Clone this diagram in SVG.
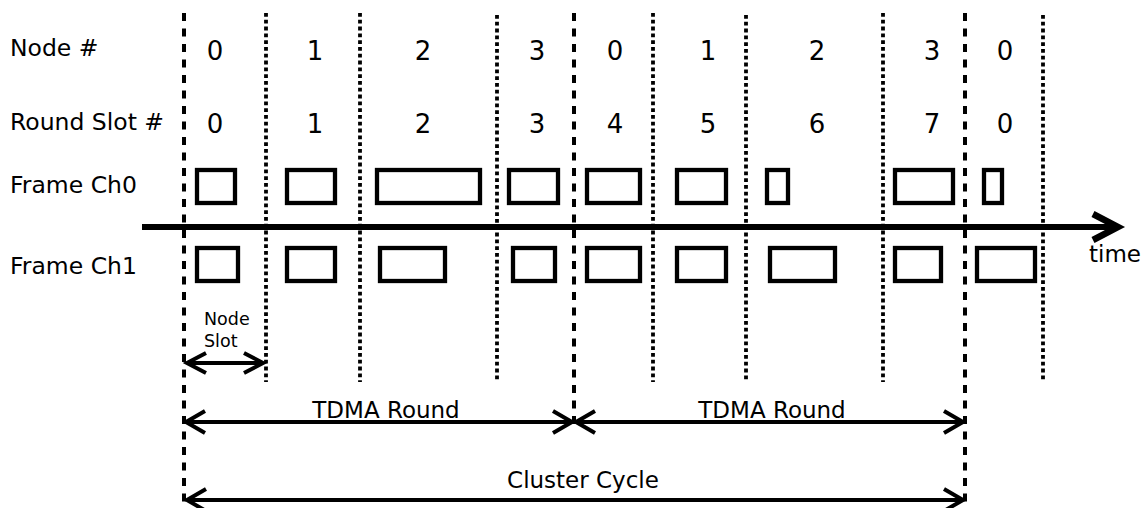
<svg xmlns="http://www.w3.org/2000/svg" width="1146" height="508" viewBox="0 0 1146 508">
<style>
text{font-family:"DejaVu Sans","Liberation Sans",sans-serif;fill:#000}
.lbl{font-size:23.5px}
.num{font-size:26px;text-anchor:middle}
.small{font-size:17.5px}
.cap{font-size:23px;text-anchor:middle}
.dash{stroke:#000;stroke-width:4;stroke-dasharray:8 7.5;fill:none}
.dot{stroke:#000;stroke-width:3.8;stroke-dasharray:3.8 3;fill:none}
.box{fill:#fff;stroke:#000;stroke-width:4.3}
.arr{stroke:#000;stroke-width:4;fill:none}
</style>
<rect width="1146" height="508" fill="#fff"/>
<g id="labels">
<text class="lbl" x="10" y="56">Node #</text>
<text class="lbl" x="10" y="130">Round Slot #</text>
<text class="lbl" x="10" y="193">Frame Ch0</text>
<text class="lbl" x="10" y="274">Frame Ch1</text>
</g>
<g id="boundaries">
<line class="dash" x1="184" y1="13" x2="184" y2="502"/>
<line class="dash" x1="574" y1="13" x2="574" y2="425"/>
<line class="dash" x1="965" y1="13" x2="965" y2="502"/>
<line class="dot" x1="266" y1="13" x2="266" y2="382"/>
<line class="dot" x1="360" y1="13" x2="360" y2="382"/>
<line class="dot" x1="497" y1="15" x2="497" y2="380"/>
<line class="dot" x1="653" y1="13" x2="653" y2="382"/>
<line class="dot" x1="746" y1="15" x2="746" y2="380"/>
<line class="dot" x1="883" y1="13" x2="883" y2="382"/>
<line class="dot" x1="1043" y1="15" x2="1043" y2="380"/>
</g>
<g id="node-numbers">
<text class="num" x="215" y="60">0</text>
<text class="num" x="315" y="60">1</text>
<text class="num" x="423" y="60">2</text>
<text class="num" x="537" y="60">3</text>
<text class="num" x="615" y="60">0</text>
<text class="num" x="708" y="60">1</text>
<text class="num" x="817" y="60">2</text>
<text class="num" x="932" y="60">3</text>
<text class="num" x="1005" y="60">0</text>
</g>
<g id="slot-numbers">
<text class="num" x="215" y="133">0</text>
<text class="num" x="315" y="133">1</text>
<text class="num" x="423" y="133">2</text>
<text class="num" x="537" y="133">3</text>
<text class="num" x="615" y="133">4</text>
<text class="num" x="708" y="133">5</text>
<text class="num" x="817" y="133">6</text>
<text class="num" x="932" y="133">7</text>
<text class="num" x="1005" y="133">0</text>
</g>
<g id="frames-ch0">
<rect class="box" x="197" y="170" width="38" height="33"/>
<rect class="box" x="287" y="170" width="48" height="33"/>
<rect class="box" x="377" y="170" width="103" height="33"/>
<rect class="box" x="509" y="170" width="49" height="33"/>
<rect class="box" x="587" y="170" width="53" height="33"/>
<rect class="box" x="677" y="170" width="49" height="33"/>
<rect class="box" x="767" y="170" width="21" height="33"/>
<rect class="box" x="895" y="170" width="58" height="33"/>
<rect class="box" x="984" y="170" width="18" height="33"/>
</g>
<g id="frames-ch1">
<rect class="box" x="197" y="248" width="41" height="33"/>
<rect class="box" x="287" y="248" width="48" height="33"/>
<rect class="box" x="380" y="248" width="65" height="33"/>
<rect class="box" x="513" y="248" width="42" height="33"/>
<rect class="box" x="587" y="248" width="53" height="33"/>
<rect class="box" x="677" y="248" width="49" height="33"/>
<rect class="box" x="770" y="248" width="65" height="33"/>
<rect class="box" x="895" y="248" width="46" height="33"/>
<rect class="box" x="977" y="248" width="58" height="33"/>
</g>
<g id="connectors">
<line x1="142" y1="227" x2="1114" y2="227" stroke="#000" stroke-width="6"/>
<polyline points="1093,214 1118,227 1093,240" stroke="#000" stroke-width="6.5" fill="none" stroke-linejoin="miter"/>
<line class="arr" x1="187" y1="363" x2="263" y2="363"/>
<polyline class="arr" points="206,353 187,363 206,373"/>
<polyline class="arr" points="244,353 263,363 244,373"/>
<line class="arr" x1="186" y1="422" x2="572" y2="422"/>
<polyline class="arr" points="205,411 186,422 205,433"/>
<polyline class="arr" points="553,411 572,422 553,433"/>
<line class="arr" x1="576" y1="422" x2="963" y2="422"/>
<polyline class="arr" points="595,411 576,422 595,433"/>
<polyline class="arr" points="944,411 963,422 944,433"/>
<line class="arr" x1="187" y1="500" x2="963" y2="500"/>
<polyline class="arr" points="206,489 187,500 206,511"/>
<polyline class="arr" points="944,489 963,500 944,511"/>
</g>
<g id="annotations">
<text class="lbl" x="1089" y="262" style="font-size:23px">time</text>
<text class="small" x="204" y="325">Node</text>
<text class="small" x="204" y="347">Slot</text>
<text class="cap" x="386" y="418">TDMA Round</text>
<text class="cap" x="772" y="418">TDMA Round</text>
<text class="cap" x="583" y="488">Cluster Cycle</text>
</g>
</svg>
